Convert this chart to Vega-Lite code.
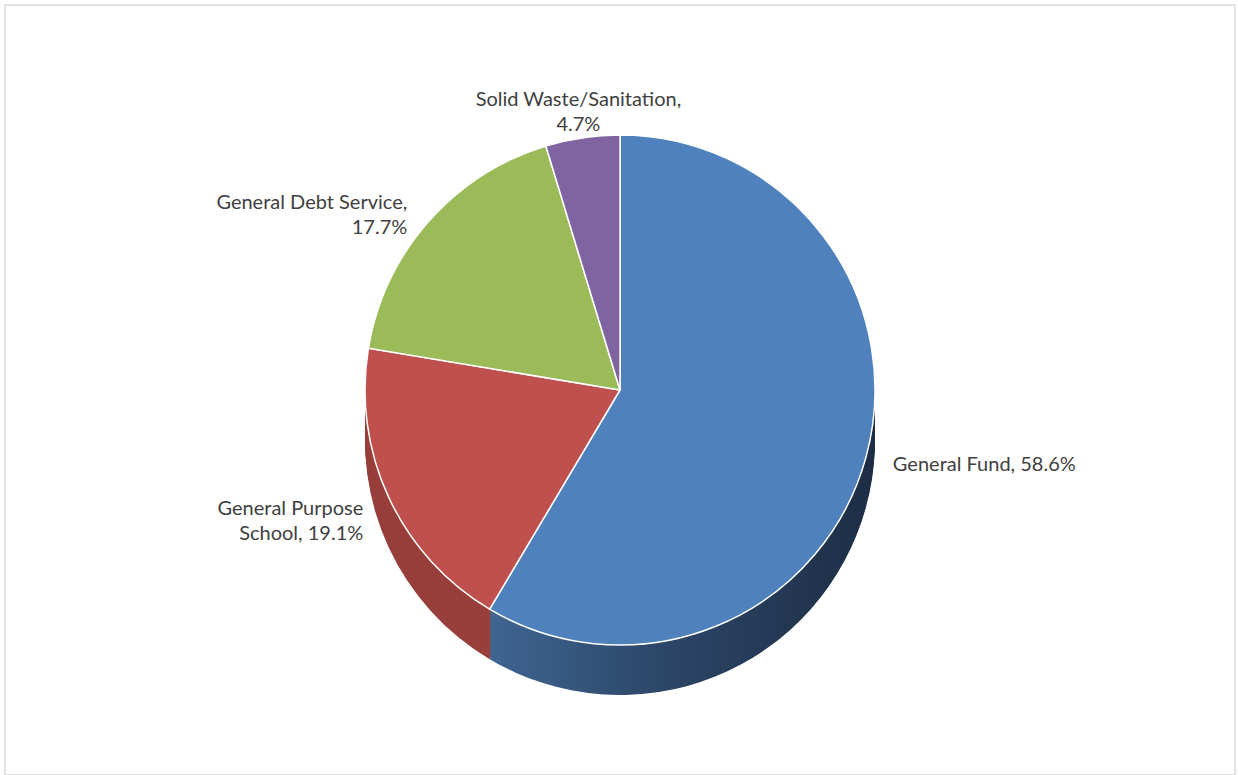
{
  "$schema": "https://vega.github.io/schema/vega-lite/v6.json",
  "autosize": {"type": "fit", "contains": "padding"},
  "width": 1238,
  "height": 775,
  "padding": {"left": 5, "top": 5, "right": 3, "bottom": 0},
  "background": "white",
  "view": {"stroke": "#d9d9d9", "strokeWidth": 1.5},
  "data": {
    "values": [
      {"cat": "General Fund", "pct": 58.6, "ord": 1, "label": "General Fund, 58.6%"},
      {"cat": "General Purpose School", "pct": 19.1, "ord": 2, "label": "General Purpose\nSchool, 19.1%"},
      {"cat": "General Debt Service", "pct": 17.7, "ord": 3, "label": "General Debt Service,\n17.7%"},
      {"cat": "Solid Waste/Sanitation", "pct": 4.7, "ord": 4, "label": "Solid Waste/Sanitation,\n4.7%"}
    ]
  },
  "encoding": {
    "theta": {"field": "pct", "type": "quantitative", "stack": true},
    "order": {"field": "ord", "type": "quantitative", "sort": "ascending"}
  },
  "layer": [
    {
      "encoding": {
        "fill": {
          "condition": {"test": "datum.cat === 'General Fund'", "value": {"gradient": "linear", "x1": 0, "y1": 0, "x2": 1, "y2": 0, "stops": [{"offset": 0, "color": "#3f6592"}, {"offset": 0.45, "color": "#2c4667"}, {"offset": 1, "color": "#1d2d45"}]}},
          "field": "cat", "type": "nominal", "legend": null,
          "scale": {"domain": ["General Fund", "General Purpose School", "General Debt Service", "Solid Waste/Sanitation"], "range": ["#2b4566", "#983f3b", "#7a9447", "#65508a"]}
        }
      },
      "layer": [
        {"mark": {"type": "arc", "radius": 255, "yOffset": 50}},
        {"mark": {"type": "arc", "radius": 255, "yOffset": 47.5}},
        {"mark": {"type": "arc", "radius": 255, "yOffset": 45}},
        {"mark": {"type": "arc", "radius": 255, "yOffset": 42.5}},
        {"mark": {"type": "arc", "radius": 255, "yOffset": 40}},
        {"mark": {"type": "arc", "radius": 255, "yOffset": 37.5}},
        {"mark": {"type": "arc", "radius": 255, "yOffset": 35}},
        {"mark": {"type": "arc", "radius": 255, "yOffset": 32.5}},
        {"mark": {"type": "arc", "radius": 255, "yOffset": 30}},
        {"mark": {"type": "arc", "radius": 255, "yOffset": 27.5}},
        {"mark": {"type": "arc", "radius": 255, "yOffset": 25}},
        {"mark": {"type": "arc", "radius": 255, "yOffset": 22.5}},
        {"mark": {"type": "arc", "radius": 255, "yOffset": 20}},
        {"mark": {"type": "arc", "radius": 255, "yOffset": 17.5}},
        {"mark": {"type": "arc", "radius": 255, "yOffset": 15}},
        {"mark": {"type": "arc", "radius": 255, "yOffset": 12.5}},
        {"mark": {"type": "arc", "radius": 255, "yOffset": 10}},
        {"mark": {"type": "arc", "radius": 255, "yOffset": 7.5}},
        {"mark": {"type": "arc", "radius": 255, "yOffset": 5}},
        {"mark": {"type": "arc", "radius": 255, "yOffset": 2.5}}
      ]
    },
    {
      "mark": {"type": "arc", "radius": 255, "stroke": "white", "strokeWidth": 1.5},
      "encoding": {
        "color": {"field": "cat", "type": "nominal", "legend": null, "scale": {"domain": ["General Fund", "General Purpose School", "General Debt Service", "Solid Waste/Sanitation"], "range": ["#4f81bd", "#c0504d", "#9bbb59", "#8064a2"]}}
      }
    },
    {
      "mark": {
        "type": "text",
        "radius": 283,
        "font": "Lato",
        "fontSize": 20,
        "color": "#404040",
        "lineBreak": "\n",
        "lineHeight": 25,
        "align": {"expr": "datum.cat === 'General Fund' ? 'left' : (datum.cat === 'Solid Waste/Sanitation' ? 'center' : 'right')"},
        "baseline": {"expr": "datum.cat === 'Solid Waste/Sanitation' ? 'bottom' : 'middle'"}
      },
      "encoding": {"text": {"field": "label", "type": "nominal"}}
    }
  ]
}
